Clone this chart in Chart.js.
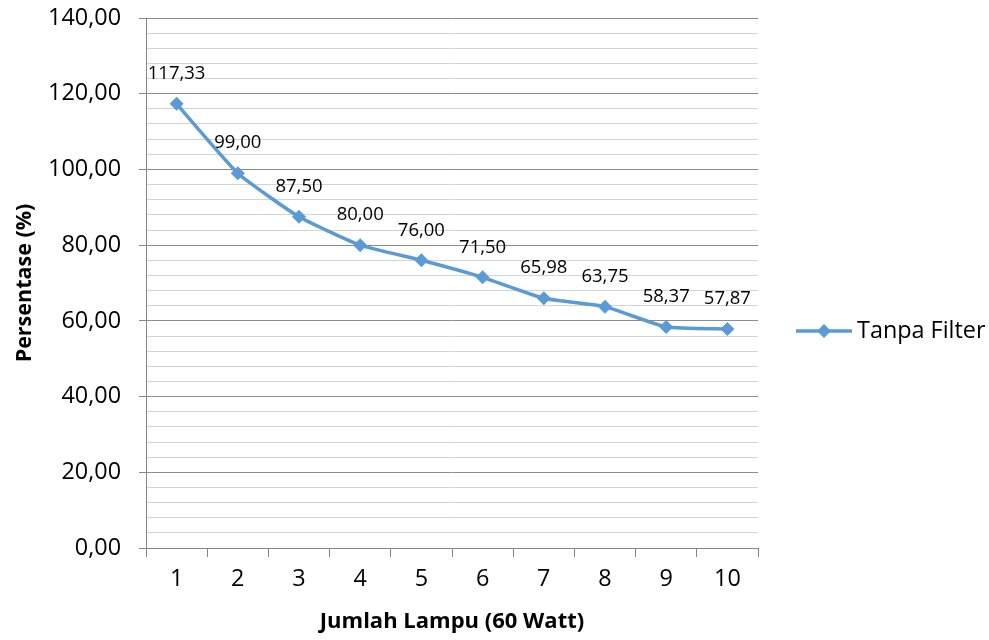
<!DOCTYPE html>
<html>
<head>
<meta charset="utf-8">
<script src="https://cdn.jsdelivr.net/npm/chart.js@4/dist/chart.umd.min.js"></script>
<style>
  html, body { margin: 0; padding: 0; background: #fff; }
  #wrap { width: 989px; height: 640px; position: relative; }
</style>
</head>
<body>
<div id="wrap"><canvas id="chart"></canvas></div>
<script>
// Data
const kategori = ['1', '2', '3', '4', '5', '6', '7', '8', '9', '10'];
const tanpaFilter = [117.33, 99.00, 87.50, 80.00, 76.00, 71.50, 65.98, 63.75, 58.37, 57.87];
const namaSeri = 'Tanpa Filter';
const judulX = 'Jumlah Lampu (60 Watt)';
const judulY = 'Persentase (%)';

const BIRU = '#5b9bd5';
const FONT = '"Open Sans", "Liberation Sans", sans-serif';
const fmt = v => v.toFixed(2).replace('.', ',');

// label data di atas titik + legenda di kanan
const labelPlugin = {
    id: 'labelTitik',
    afterDatasetsDraw(chart) {
        const ctx = chart.ctx;
        const meta = chart.getDatasetMeta(0);
        ctx.save();
        ctx.font = '18.5px ' + FONT;
        ctx.fillStyle = '#000';
        ctx.textAlign = 'center';
        ctx.textBaseline = 'middle';
        meta.data.forEach((pt, i) => {
            ctx.fillText(fmt(tanpaFilter[i]), pt.x, pt.y - 30);
        });

        // Legenda
        const ly = 331;
        const lx = 796;
        ctx.strokeStyle = BIRU;
        ctx.lineWidth = 3.5;
        ctx.beginPath();
        ctx.moveTo(lx, ly);
        ctx.lineTo(lx + 56, ly);
        ctx.stroke();
        ctx.fillStyle = BIRU;
        ctx.beginPath();
        ctx.moveTo(lx + 28, ly - 7);
        ctx.lineTo(lx + 35, ly);
        ctx.lineTo(lx + 28, ly + 7);
        ctx.lineTo(lx + 21, ly);
        ctx.closePath();
        ctx.fill();
        ctx.fillStyle = '#000';
        ctx.font = '23.4px ' + FONT;
        ctx.textAlign = 'left';
        ctx.fillText(namaSeri, lx + 61, ly);
        ctx.restore();
    }
};

new Chart(document.getElementById('chart'), {
    type: 'line',
    data: {
        labels: kategori,
        datasets: [{
            label: namaSeri,
            data: tanpaFilter,
            borderColor: BIRU,
            backgroundColor: BIRU,
            borderWidth: 3.5,
            pointStyle: 'rectRot',
            pointRadius: 7,
            pointBorderWidth: 0,
            tension: 0.15,
            fill: false
        }]
    },
    options: {
        responsive: true,
        maintainAspectRatio: false,
        animation: false,
        layout: { padding: { top: 18, right: 231, bottom: 0, left: 0 } },
        plugins: {
            legend: { display: false },
            tooltip: { enabled: false }
        },
        scales: {
            x: {
                offset: true,
                grid: {
                    offset: true,
                    drawOnChartArea: false,
                    tickLength: 9,
                    tickColor: '#868686'
                },
                border: { color: '#868686' },
                ticks: { color: '#000', font: { family: FONT, size: 23.4 }, padding: 8 },
                title: {
                    display: true,
                    text: judulX,
                    color: '#000',
                    font: { family: FONT, size: 22, weight: 'bold' },
                    padding: { top: 0, bottom: 5 }
                },
                afterFit: s => { s.height = 92; s.paddingLeft = 0; s.paddingRight = 0; }
            },
            y: {
                min: 0,
                max: 140,
                ticks: {
                    stepSize: 4,
                    autoSkip: false,
                    color: '#000',
                    font: { family: FONT, size: 23.4 },
                    padding: 18,
                    callback: v => (v % 20 === 0 ? fmt(v) : '')
                },
                grid: {
                    tickLength: 7,
                    color: c => (c.tick && c.tick.value % 20 === 0 ? '#8c8c8c' : '#d4d4d4'),
                    tickColor: c => (c.tick && c.tick.value % 20 === 0 ? '#868686' : 'rgba(0,0,0,0)')
                },
                border: { color: '#868686' },
                title: {
                    display: true,
                    text: judulY,
                    color: '#000',
                    font: { family: FONT, size: 21.5, weight: 'bold' },
                    padding: { top: 12, bottom: 0 }
                },
                afterFit: s => { s.width = 146; s.paddingTop = 0; s.paddingBottom = 0; }
            }
        }
    },
    plugins: [labelPlugin]
});
</script>
</body>
</html>
